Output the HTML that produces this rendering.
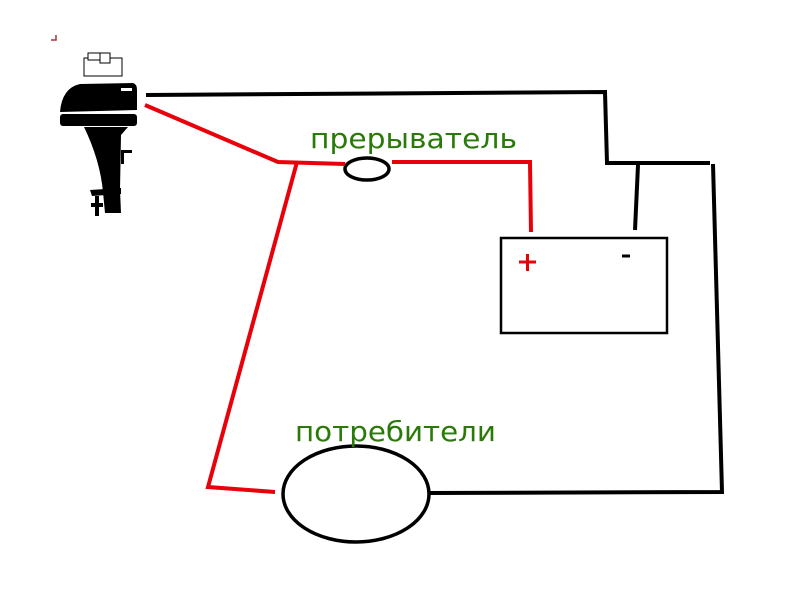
<!DOCTYPE html>
<html><head><meta charset="utf-8"><style>
html,body{margin:0;padding:0;background:#fff;width:800px;height:600px;overflow:hidden}
</style></head><body>
<svg width="800" height="600" viewBox="0 0 800 600" xmlns="http://www.w3.org/2000/svg">
<rect width="800" height="600" fill="#fff"/>
<path d="M51 40 h5 v-5" stroke="#a33" stroke-width="1.5" fill="none"/>
<g>
<rect x="84" y="58" width="38" height="18" fill="#fff" stroke="#000" stroke-width="1"/>
<rect x="88" y="53" width="12" height="7" fill="#fff" stroke="#000" stroke-width="1"/>
<rect x="100" y="53" width="10" height="10" fill="#fff" stroke="#000" stroke-width="1"/>
<path d="M60 112 Q62 88 80 84 L133 83 Q137 84 137 90 L137 110 Z" fill="#000"/>
<rect x="60" y="114" width="77" height="12" rx="3" fill="#000"/>
<path d="M84 127 L128 127 L121 135 L120 190 L121 213 L105 213 L103 192 Q100 160 84 127 Z" fill="#000"/>
<path d="M90 190 L121 188 L121 194 L92 196 Z" fill="#000"/>
<rect x="95" y="196" width="4" height="20" fill="#000"/>
<rect x="91" y="203" width="12" height="4" fill="#000"/>
<rect x="121" y="150" width="3" height="14" fill="#000"/>
<rect x="121" y="150" width="11" height="3" fill="#000"/>
<rect x="121" y="88" width="11" height="3" fill="#fff"/>
</g>
<g stroke="#000" stroke-width="4" fill="none">
<polyline points="146,95 605,92 607,163 710,163"/>
<line x1="638" y1="165" x2="635" y2="230"/>
<polyline points="713,164 722,492 428,493"/>
<rect x="501" y="238" width="166" height="95" stroke-width="2.5"/>
<ellipse cx="356" cy="494" rx="73" ry="48" stroke-width="3.5"/>
<ellipse cx="367" cy="169" rx="22" ry="11" stroke-width="3.5"/>
</g>
<g stroke="#e8000b" stroke-width="4" fill="none">
<polyline points="145,105 278,162 345,164"/>
<polyline points="392,162 530,162 531,232"/>
<polyline points="297,162 208,487 275,492"/>
</g>
<path d="M519 262 h17 M527.5 254 v17" stroke="#e8000b" stroke-width="3"/>
<path d="M622 256 h8" stroke="#000" stroke-width="3"/>
<text x="310" y="148" fill="#2a7a0a" font-family="DejaVu Sans, sans-serif" font-size="28" textLength="207" lengthAdjust="spacingAndGlyphs">прерыватель</text>
<text x="295" y="441" fill="#2a7a0a" font-family="DejaVu Sans, sans-serif" font-size="28" textLength="201" lengthAdjust="spacingAndGlyphs">потребители</text>
</svg>
</body></html>
